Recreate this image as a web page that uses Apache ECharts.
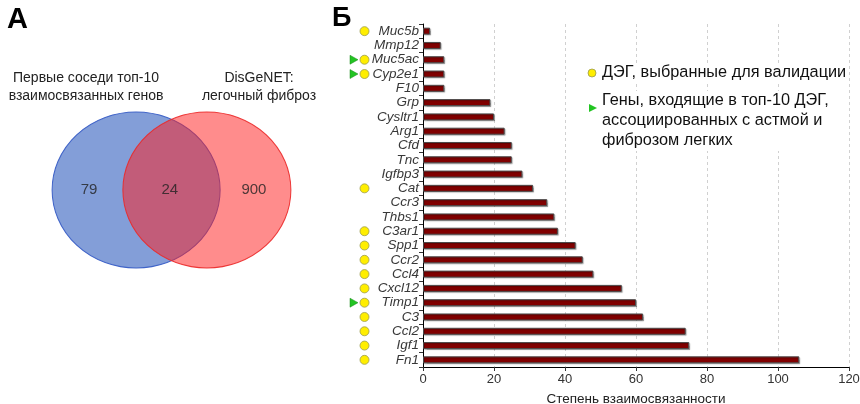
<!DOCTYPE html>
<html><head><meta charset="utf-8">
<script src="https://cdn.jsdelivr.net/npm/echarts@6/dist/echarts.min.js"></script>
<style>html,body{margin:0;padding:0;background:#fff}#c{width:860px;height:404px}</style>
</head><body><div id="c"></div>
<script>
const categories = ['Muc5b','Mmp12','Muc5ac','Cyp2e1','F10','Grp','Cysltr1','Arg1','Cfd','Tnc','Igfbp3','Cat','Ccr3','Thbs1','C3ar1','Spp1','Ccr2','Ccl4','Cxcl12','Timp1','C3','Ccl2','Igf1','Fn1'];
const degree = [2,5,6,6,6,19,20,23,25,25,28,31,35,37,38,43,45,48,56,60,62,74,75,106];
const validatedGenes = ['Muc5b','Muc5ac','Cyp2e1','Cat','C3ar1','Spp1','Ccr2','Ccl4','Cxcl12','Timp1','C3','Ccl2','Igf1','Fn1'];
const asthmaTop10Genes = ['Muc5ac','Cyp2e1','Timp1'];
const xTicks = [0,20,40,60,80,100,120];
const vennTitles = ['Первые соседи топ-10\nвзаимосвязанных генов', 'DisGeNET:\nлегочный фиброз'];
const vennCounts = [79, 24, 900];
const legendTexts = ['ДЭГ, выбранные для валидации', 'Гены, входящие в топ-10 ДЭГ,\nассоциированных с астмой и\nфиброзом легких'];
const xTitle = 'Степень взаимосвязанности';

const chart = echarts.init(document.getElementById('c'), null, {renderer:'canvas'});
const font = 'Liberation Sans, Arial, sans-serif';

const option = {
  animation: false,
  backgroundColor: '#fff',
  grid: [
    {left: 423, right: 11, top: 24, bottom: 37, outerBoundsMode: 'none', containLabel: false},
    {left: 348, width: 20, top: 24, bottom: 37, outerBoundsMode: 'none', containLabel: false},
    {left: 30, width: 283, top: 110, height: 160, outerBoundsMode: 'none', containLabel: false}
  ],
  xAxis: [
    {gridIndex: 0, type: 'value', min: xTicks[0], max: xTicks[xTicks.length-1], interval: xTicks[1]-xTicks[0],
     name: xTitle, nameLocation: 'middle', nameGap: 25,
     nameTextStyle: {fontFamily: font, fontSize: 13.5, color: '#222'},
     axisLine: {show: true, lineStyle: {color: '#000'}},
     axisTick: {show: true, length: 4, lineStyle: {color: '#333'}},
     axisLabel: {fontFamily: font, fontSize: 13, color: '#333', margin: 6},
     splitLine: {show: true, lineStyle: {color: '#d0d0d0', type: [3,3]}}},
    {gridIndex: 1, type: 'value', min: 0, max: 2, show: false},
    {gridIndex: 2, type: 'value', min: -4, max: 4, show: false}
  ],
  yAxis: [
    {gridIndex: 0, type: 'category', data: categories, inverse: true,
     axisLine: {show: true, lineStyle: {color: '#000'}},
     axisTick: {show: true, length: 4, interval: 0, lineStyle: {color: '#333'}},
     axisLabel: {interval: 0, fontFamily: font, fontSize: 13.5, fontStyle: 'italic', fontWeight: 'normal', color: '#383838', margin: 4},
     splitLine: {show: false}},
    {gridIndex: 1, type: 'category', data: categories, inverse: true, show: false},
    {gridIndex: 2, type: 'value', min: -1, max: 1, show: false}
  ],
  series: [
    {type: 'bar', xAxisIndex: 0, yAxisIndex: 0, data: degree, barWidth: 7,
     itemStyle: {color: '#800000', borderColor: '#4a4a4a', borderWidth: 1,
                 shadowColor: 'rgba(0,0,0,0.25)', shadowBlur: 1, shadowOffsetX: 1, shadowOffsetY: 1}},
    {type: 'scatter', xAxisIndex: 1, yAxisIndex: 1, symbol: 'circle', symbolSize: 9,
     data: validatedGenes.map(g => [1.65, g]),
     itemStyle: {color: '#ffee00', borderColor: '#9a9a50', borderWidth: 0.8, opacity: 1}},
    {type: 'scatter', xAxisIndex: 1, yAxisIndex: 1, symbol: 'triangle', symbolSize: [9, 8], symbolRotate: -90,
     data: asthmaTop10Genes.map(g => [0.6, g]),
     itemStyle: {color: '#22c422', borderColor: '#1a8a1a', borderWidth: 0.5, opacity: 1}},
    {type: 'scatter', xAxisIndex: 2, yAxisIndex: 2, symbol: 'circle', symbolSize: [168, 156], z: 2,
     data: [[-1, 0]], silent: true,
     itemStyle: {color: '#839ed8', borderColor: '#3f63c8', borderWidth: 1, opacity: 1}},
    {type: 'scatter', xAxisIndex: 2, yAxisIndex: 2, symbol: 'circle', symbolSize: [168, 156], z: 3,
     data: [[1, 0]], silent: true,
     itemStyle: {color: 'rgba(255,29,29,0.51)', borderColor: 'rgba(235,40,40,0.9)', borderWidth: 1, opacity: 1}},
    {type: 'scatter', xAxisIndex: 2, yAxisIndex: 2, symbolSize: 0, z: 5, silent: true,
     data: [[-2.33, 0, vennCounts[0]], [-0.05, 0, vennCounts[1]], [2.33, 0, vennCounts[2]]],
     label: {show: true, position: 'inside', formatter: p => String(p.data[2]),
             fontFamily: font, fontSize: 15, color: '#222'}}
  ],
  graphic: [
    {type: 'text', left: 7, top: 5, style: {text: 'А', font: 'bold 29px ' + font, fill: '#000'}},
    {type: 'text', left: 332, top: 5, style: {text: 'Б', font: 'bold 27px ' + font, fill: '#000'}},
    {type: 'text', x: 86, y: 69, style: {text: vennTitles[0], font: '14px ' + font, fill: '#222', align: 'center', lineHeight: 18}},
    {type: 'text', x: 259, y: 69, style: {text: vennTitles[1], font: '14px ' + font, fill: '#222', align: 'center', lineHeight: 18}},
    {type: 'circle', shape: {cx: 592, cy: 73, r: 4}, style: {fill: '#ffee00', stroke: '#9a9a50', lineWidth: 0.8}, z: 10},
    {type: 'text', x: 602, y: 73, z: 10, style: {text: legendTexts[0], font: '16.3px ' + font, fill: '#111', verticalAlign: 'middle', backgroundColor: '#fff'}},
    {type: 'polygon', shape: {points: [[589, 104], [589, 112], [597, 108]]}, style: {fill: '#22c422'}, z: 10},
    {type: 'text', x: 602, y: 91, z: 10, style: {text: legendTexts[1], font: '16.3px ' + font, fill: '#111', lineHeight: 20, backgroundColor: '#fff'}}
  ]
};
chart.setOption(option);
</script>
</body></html>
